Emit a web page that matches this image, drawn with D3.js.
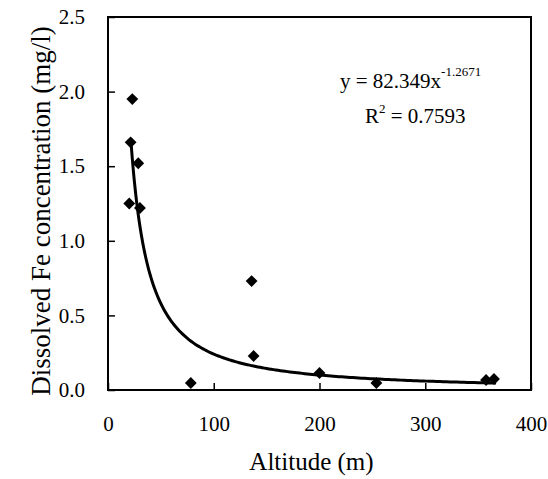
<!DOCTYPE html>
<meta charset="utf-8">
<style>
body { margin: 0; background: #fff; }
.axis path { display: none; }
.axis line { stroke: #000; stroke-width: 1.5; }
</style>
<body>
<script src="https://d3js.org/d3.v7.min.js"></script>
<script>

// data
var altitude = [23, 21.4, 28.6, 20.1, 30.2, 78.3, 135.8, 137.7, 200, 253.8, 357.5, 365];
var feConc   = [1.95, 1.66, 1.52, 1.25, 1.22, 0.047, 0.73, 0.228, 0.114, 0.047, 0.067, 0.074];

var xTicks = [0, 100, 200, 300, 400];
var yTicks = [0, 0.5, 1.0, 1.5, 2.0, 2.5];

// power trendline printed on the chart
var fitA = 82.349, fitB = -1.2671, fitR2 = "0.7593";
var fitFrom = 21.5, fitTo = 367;

var serif = "'Liberation Serif', 'Times New Roman', Times, serif";

var margin = {top: 17, right: 17, bottom: 89, left: 108},
    width = 548 - margin.left - margin.right,
    height = 479 - margin.top - margin.bottom;

var x = d3.scaleLinear().domain([0, 400]).range([0, width]);
var y = d3.scaleLinear().domain([0, 2.5]).range([height, 0]);

var svg = d3.select("body").append("svg")
    .attr("width", 548)
    .attr("height", 479)
    .style("font-family", serif)
  .append("g")
    .attr("transform", "translate(" + margin.left + "," + margin.top + ")");

// axes, ticks pointing inward
svg.append("g")
    .attr("class", "axis")
    .attr("transform", "translate(0," + height + ")")
    .call(d3.axisBottom(x).tickValues(xTicks).tickSizeInner(-7).tickSizeOuter(0).tickPadding(26))
    .attr("font-family", null)
    .selectAll("text")
    .style("font-family", serif)
    .style("font-size", "21px")
    .attr("fill", "#000");

svg.append("g")
    .attr("class", "axis")
    .call(d3.axisLeft(y).tickValues(yTicks).tickSizeInner(-7).tickSizeOuter(0).tickPadding(23)
            .tickFormat(d3.format(".1f")))
    .attr("font-family", null)
    .selectAll("text")
    .style("font-family", serif)
    .style("font-size", "21px")
    .attr("fill", "#000");

// frame
svg.append("rect")
    .attr("width", width)
    .attr("height", height)
    .attr("fill", "none")
    .attr("stroke", "#000")
    .attr("stroke-width", 2);

// trendline
var fitX = d3.range(0, 201).map(function(i) { return fitFrom + (fitTo - fitFrom) * Math.pow(i / 200, 2); });
svg.append("path")
    .datum(fitX)
    .attr("fill", "none")
    .attr("stroke", "#000")
    .attr("stroke-width", 3)
    .attr("d", d3.line()
        .x(function(d) { return x(d); })
        .y(function(d) { return y(fitA * Math.pow(d, fitB)); }));

// points
svg.selectAll(".pt")
    .data(altitude)
  .enter().append("path")
    .attr("class", "pt")
    .attr("d", d3.symbol().type(d3.symbolSquare).size(70))
    .attr("transform", function(d, i) {
        return "translate(" + x(d) + "," + y(feConc[i]) + ") rotate(45)";
    })
    .attr("fill", "#000");

// equation
var eq = svg.append("text")
    .attr("x", 232).attr("y", 71)
    .style("font-family", serif)
    .style("font-size", "21px");
eq.append("tspan").text("y = " + fitA + "x");
eq.append("tspan").attr("dy", -12).style("font-size", "13px").text(fitB);

var r2 = svg.append("text")
    .attr("x", 257).attr("y", 106)
    .style("font-family", serif)
    .style("font-size", "21px");
r2.append("tspan").text("R");
r2.append("tspan").attr("dy", -10).style("font-size", "13px").text("2");
r2.append("tspan").attr("dy", 10).text(" = " + fitR2);

// axis titles
svg.append("text")
    .attr("x", width / 2 - 8)
    .attr("y", height + 80)
    .attr("text-anchor", "middle")
    .style("font-family", serif)
    .style("font-size", "25px")
    .text("Altitude (m)");

svg.append("text")
    .attr("transform", "rotate(-90)")
    .attr("x", -(211 - margin.top))
    .attr("y", 50 - margin.left)
    .attr("text-anchor", "middle")
    .style("font-family", serif)
    .style("font-size", "27px")
    .text("Dissolved Fe concentration (mg/l)");

</script>
</body>
